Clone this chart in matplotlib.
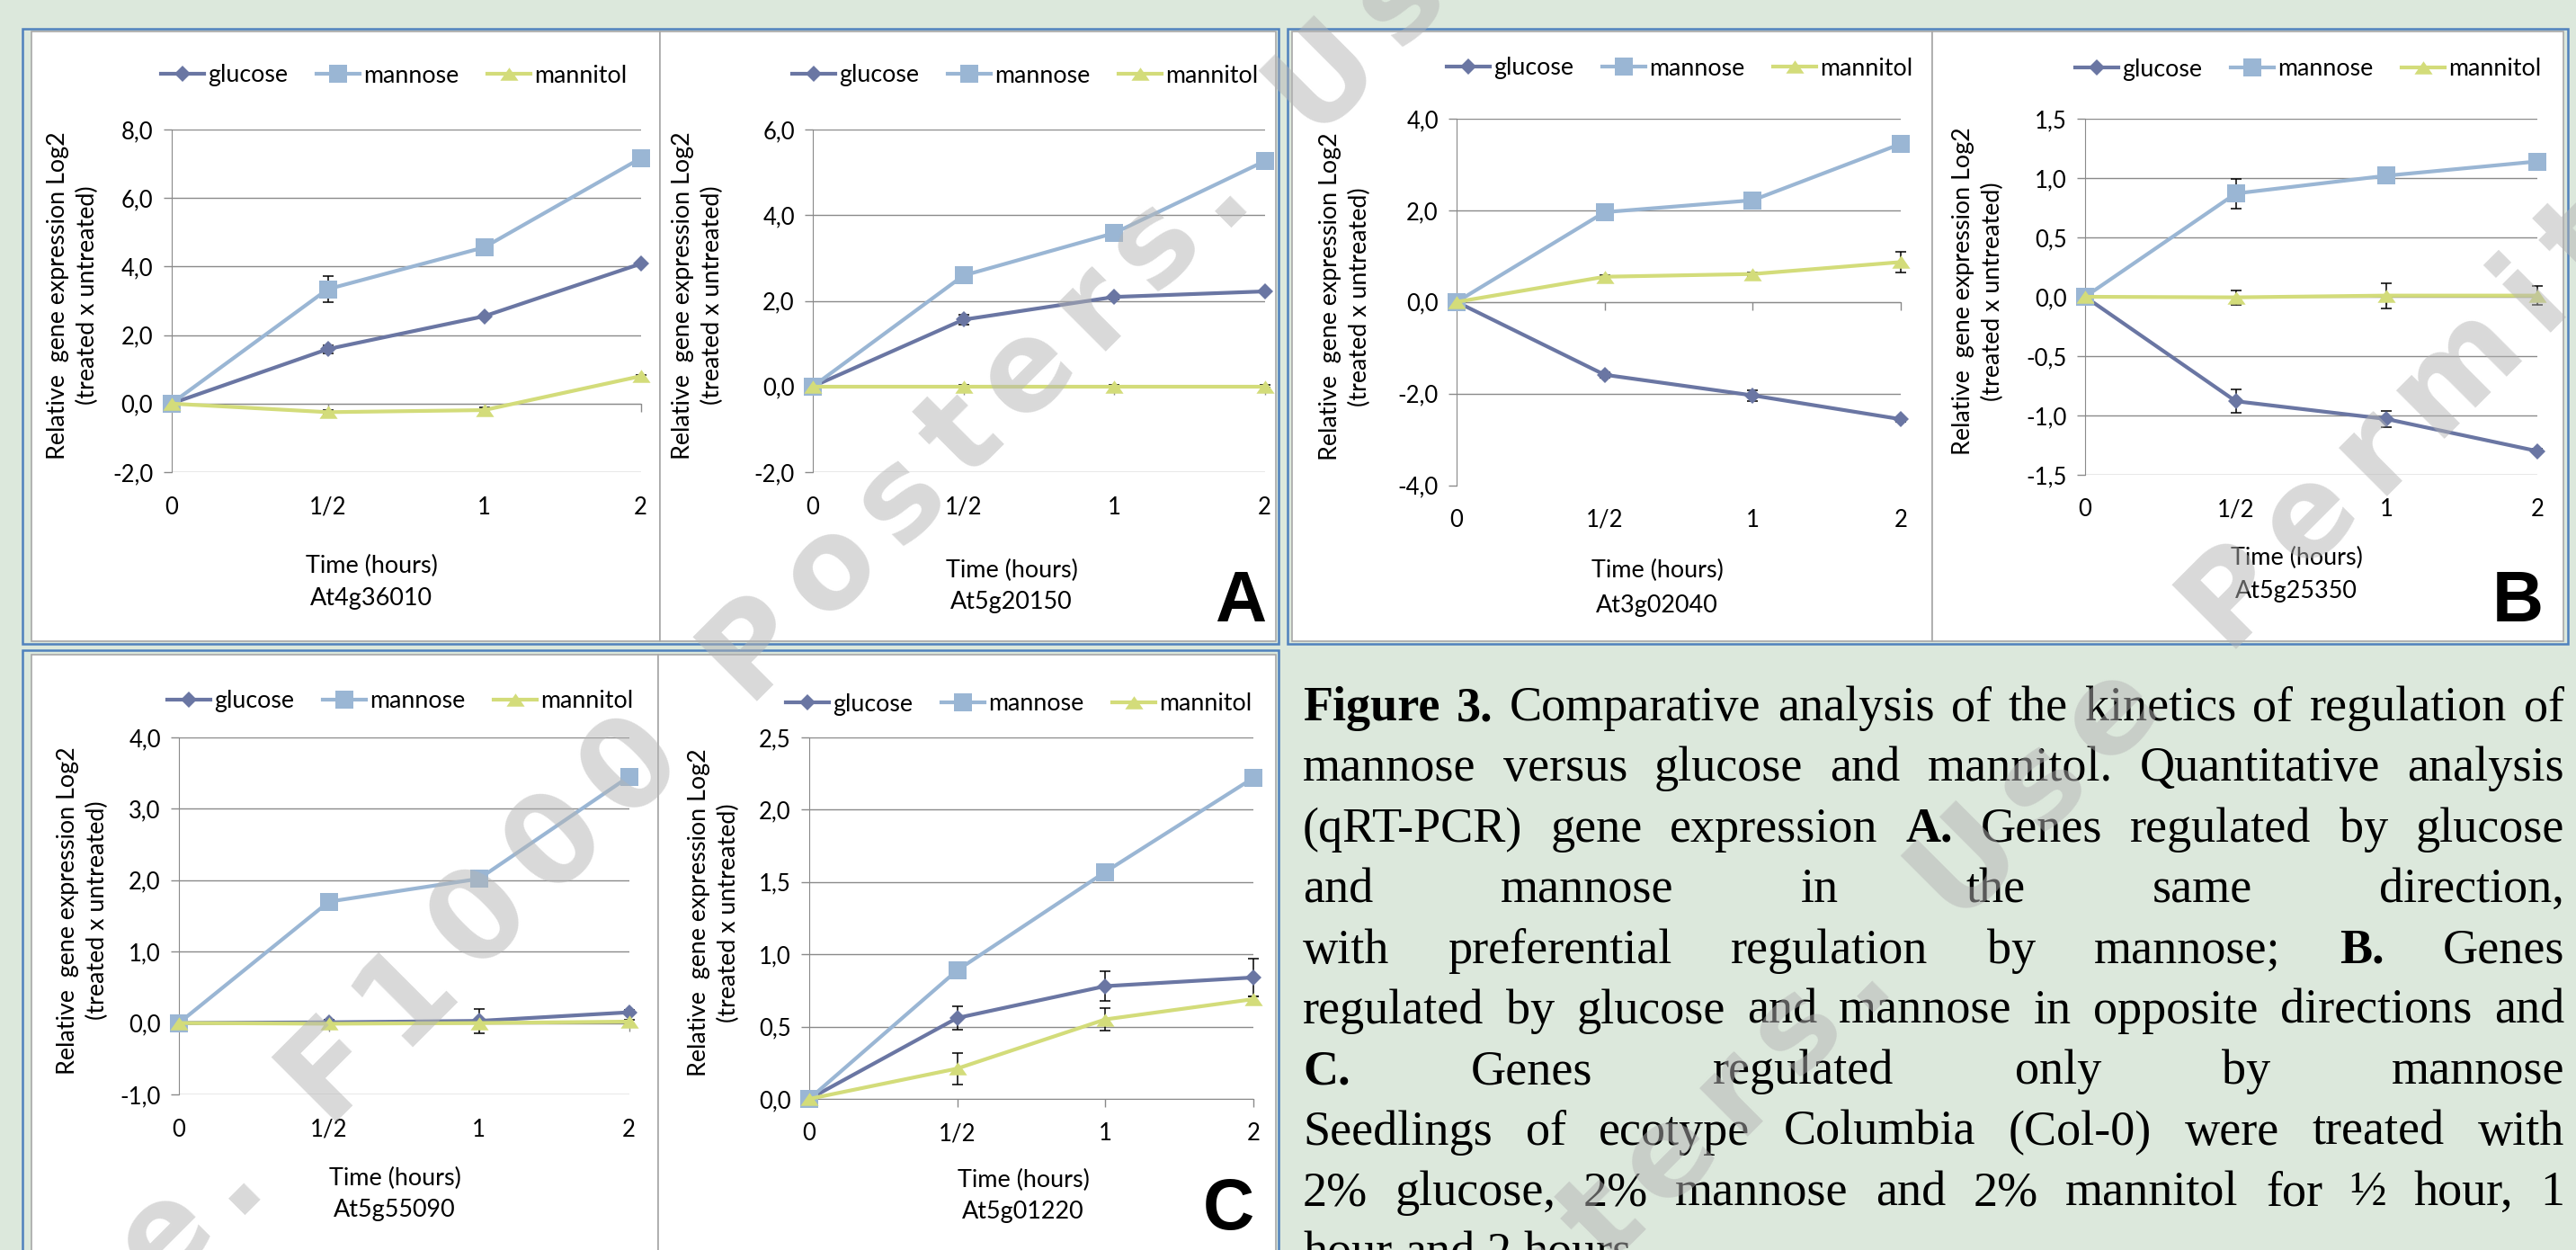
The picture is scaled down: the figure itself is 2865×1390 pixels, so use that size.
import matplotlib
matplotlib.use("Agg")
import matplotlib.pyplot as plt
from matplotlib.patches import Rectangle
from matplotlib.path import Path
import numpy as np

W, H = 2865, 1390
DPI = 100

# ---- data ----
times = ["0", "1/2", "1", "2"]
genes = ["At4g36010", "At5g20150", "At3g02040", "At5g25350", "At5g55090", "At5g01220"]
panel_letters = ["A", "B", "C"]

glucose = [
    [0, 1.59, 2.55, 4.08],
    [0, 1.56, 2.09, 2.22],
    [0, -1.59, -2.04, -2.56],
    [0, -0.88, -1.03, -1.30],
    [0, 0.01, 0.03, 0.15],
    [0, 0.56, 0.78, 0.84],
]
glucose_err = [
    [0, 0.12, 0.05, 0.05],
    [0, 0.12, 0.05, 0.04],
    [0, 0.06, 0.12, 0.05],
    [0, 0.10, 0.065, 0.02],
    [0, 0.03, 0.17, 0.03],
    [0, 0.08, 0.10, 0.13],
]
mannose = [
    [0, 3.34, 4.56, 7.16],
    [0, 2.59, 3.58, 5.26],
    [0, 1.96, 2.22, 3.45],
    [0, 0.87, 1.02, 1.14],
    [0, 1.70, 2.02, 3.45],
    [0, 0.89, 1.57, 2.22],
]
mannose_err = [
    [0, 0.37, 0.05, 0.05],
    [0, 0.05, 0.18, 0.05],
    [0, 0.05, 0.05, 0.05],
    [0, 0.125, 0.02, 0.02],
    [0, 0.03, 0.03, 0.03],
    [0, 0.02, 0.02, 0.02],
]
mannitol = [
    [0, -0.25, -0.19, 0.80],
    [0, 0.0, 0.0, 0.0],
    [0, 0.55, 0.61, 0.87],
    [0, -0.005, 0.01, 0.01],
    [0, -0.01, 0.0, 0.02],
    [0, 0.21, 0.55, 0.69],
]
mannitol_err = [
    [0, 0.06, 0.08, 0.04],
    [0, 0.03, 0.03, 0.03],
    [0, 0.04, 0.04, 0.22],
    [0, 0.06, 0.105, 0.08],
    [0, 0.05, 0.05, 0.03],
    [0, 0.11, 0.08, 0.02],
]
yranges = [(-2, 8, 2), (-2, 6, 2), (-4, 4, 2), (-1.5, 1.5, 0.5), (-1, 4, 1), (0, 2.5, 0.5)]

caption = [
    "Figure 3. Comparative analysis of the kinetics of regulation of",
    "mannose versus glucose and mannitol. Quantitative analysis",
    "(qRT-PCR) gene expression A. Genes regulated by glucose",
    "and mannose in the same direction,",
    "with preferential regulation by mannose; B. Genes",
    "regulated by glucose and mannose in opposite directions and",
    "C. Genes regulated only by mannose",
    "Seedlings of ecotype Columbia (Col-0) were treated with",
    "2% glucose, 2% mannose and 2% mannitol for \u00bd hour, 1",
    "hour and 2 hours",
]
bold_words = {"Figure", "3.", "A.", "B.", "C."}
watermark = "Use. F1000 Posters. Use Permitted"
ylabel = "Relative  gene expression Log2\n(treated x untreated)"

# ---- layout (pixels) ----
# axes box (left, top, right, bottom), legend centre, ylabel x, title x, time y, gene y
layout = [
    ((190.5, 144, 712.5, 525), (438, 84), 81, 413, 629, 666),
    ((904, 144, 1406.5, 525), (1140, 84), 776, 1125, 634, 670),
    ((1620, 132, 2114, 539.5), (1868, 76), 1496, 1843, 634, 673),
    ((2319, 132, 2822, 528), (2567, 77), 2200, 2554, 620, 657),
    ((199, 820, 699.5, 1217), (445, 780), 92, 439, 1310, 1346),
    ((900, 820, 1394, 1222), (1133, 783), 794, 1138, 1312, 1348),
]
blue_frames = [(25, 32, 1422, 716), (1432, 32, 2856, 716), (25, 723, 1422, 1410)]
chart_frames = [(35, 35, 734, 713), (734, 35, 1419, 713), (1437, 35, 2149, 713),
                (2149, 35, 2851, 713), (35, 728, 732, 1410), (732, 728, 1419, 1410)]
letter_pos = [(1408, 691), (2829, 691), (1395, 1367)]
# watermark anchors: (char index, baseline x, baseline y)
wm_anchors = [(watermark.index("F1000"), 361, 1248), (watermark.index("Permitted"), 2474, 722)]

C_GLU = "#6a76a3"
C_MAN = "#9ab6d4"
C_MNT = "#d3dc7a"
GRID = "#8a8a8a"
BG = "#dce8dc"
FS_CAP = 39
FS_WM, TRACK = 100, 22

tri = Path([(-1, -0.72), (1, -0.72), (0, 0.72), (-1, -0.72)],
           [Path.MOVETO, Path.LINETO, Path.LINETO, Path.CLOSEPOLY])
styles = [("glucose", C_GLU, "D", 9), ("mannose", C_MAN, "s", 14.5), ("mannitol", C_MNT, tri, 14.5)]


def fx(x):
    return x / W


def fy(y):
    return 1 - y / H


plt.rcParams["font.family"] = ["Lato", "DejaVu Sans"]
fig = plt.figure(figsize=(W / DPI, H / DPI), dpi=DPI, facecolor=BG)
renderer = fig.canvas.get_renderer()


def text_width(s, **kw):
    p = fig.text(0, 0, s, **kw)
    w = p.get_window_extent(renderer).width
    p.remove()
    return w


def fit_size(s, target):
    return 20 * target / text_width(s, fontsize=20)


# chart font sizes matched to the widths measured on the reference
FS_LEG = fit_size("glucose", 88.7)
FS_T = fit_size("Time (hours)", 147.8)
FS_TICK = fit_size("-2,0", 45)
FS_YL = fit_size("Relative  gene expression Log2", 365)
leg_em = FS_LEG * DPI / 72

for (l, t, r, b) in blue_frames:
    fig.add_artist(Rectangle((fx(l), fy(b)), (r - l) / W, (b - t) / H, transform=fig.transFigure,
                             facecolor=BG, edgecolor="#4f81bd", lw=1.8, zorder=-10))
for (l, t, r, b) in chart_frames:
    fig.add_artist(Rectangle((fx(l), fy(b)), (r - l) / W, (b - t) / H, transform=fig.transFigure,
                             facecolor="white", edgecolor="#a8a8a8", lw=1.2, zorder=-9))

series_all = [(glucose, glucose_err), (mannose, mannose_err), (mannitol, mannitol_err)]
x = np.arange(len(times))

for i, gene in enumerate(genes):
    (l, t, r, b), (lgx, lgy), ylx, ttx, tmy, gny = layout[i]
    ax = fig.add_axes([fx(l), fy(b), (r - l) / W, (b - t) / H])
    ax.patch.set_alpha(0)
    handles = []
    for (vals, errs), (name, col, mk, ms) in zip(series_all, styles):
        ax.errorbar(x, vals[i], yerr=errs[i], fmt="none", ecolor="black", elinewidth=1.1,
                    capsize=4.5, capthick=1.1, zorder=3, clip_on=False)
        h, = ax.plot(x, vals[i], color=col, lw=3.0, marker=mk, markersize=ms,
                     markeredgewidth=0, label=name, zorder=4, clip_on=False)
        handles.append(h)
    lo, hi, step = yranges[i]
    yt = np.arange(lo, hi + step / 2, step)
    ax.set_ylim(lo, hi)
    ax.set_yticks(yt)
    ax.set_yticklabels([f"{v:.1f}".replace(".", ",") for v in yt])
    ax.set_xlim(0, len(times) - 1)
    ax.set_xticks(x)
    ax.tick_params(axis="x", labelbottom=False, direction="out", length=6.5, width=1.0, color=GRID)
    ax.tick_params(axis="y", direction="out", length=6.5, width=1.0, color=GRID,
                   labelsize=FS_TICK, pad=8)
    ax.yaxis.grid(True, color=GRID, lw=1.0)
    ax.set_axisbelow(True)
    for s in ("top", "right"):
        ax.spines[s].set_visible(False)
    ax.spines["left"].set_color(GRID)
    ax.spines["bottom"].set_color(GRID)
    ax.spines["bottom"].set_position(("data", 0))
    for xi, lab in zip(x, times):
        ax.annotate(lab, xy=(xi, 0), xycoords=ax.get_xaxis_transform(), xytext=(0, -39 * 72 / DPI),
                    textcoords="offset points", ha="center", va="center", fontsize=FS_TICK)
    ax.legend(handles=handles, loc="center", bbox_to_anchor=(fx(lgx), fy(lgy)),
              bbox_transform=fig.transFigure, ncol=3, frameon=False, fontsize=FS_LEG,
              handlelength=48 / leg_em, handletextpad=4 / leg_em, columnspacing=32 / leg_em)
    fig.text(fx(ylx), fy((t + b) / 2 - 6), ylabel, rotation=90, ha="center", va="center",
             fontsize=FS_YL, linespacing=1.35, multialignment="center")
    fig.text(fx(ttx), fy(tmy), "Time (hours)", ha="center", va="center", fontsize=FS_T)
    fig.text(fx(ttx), fy(gny), gene, ha="center", va="center", fontsize=FS_T)

for letter, (px, py) in zip(panel_letters, letter_pos):
    fig.text(fx(px), fy(py), letter, ha="right", va="baseline", fontsize=57,
             fontweight="bold", family="Liberation Sans")

# ---- justified caption ----
cap_kw = dict(fontsize=FS_CAP, family="Liberation Serif")
space_w = text_width("a a", **cap_kw) - text_width("aa", **cap_kw)
cap_left, cap_right = 1449, 2852
for k, line in enumerate(caption):
    words = line.split(" ")
    base = 801 + 67.4 * k
    objs = [fig.text(0, fy(base), w, va="baseline", ha="left",
                     fontweight="bold" if w in bold_words else "normal", **cap_kw) for w in words]
    widths = [o.get_window_extent(renderer).width for o in objs]
    if k == len(caption) - 1:
        gap = space_w
    else:
        gap = (cap_right - cap_left - sum(widths)) / (len(words) - 1)
    xpos = cap_left
    for o, wd in zip(objs, widths):
        o.set_x(fx(xpos))
        xpos += wd + gap

# ---- watermark, one glyph at a time with wide tracking ----
wm_kw = dict(fontsize=FS_WM, family="DejaVu Sans", fontweight="bold")
ref = text_width("HH", **wm_kw)
adv = [text_width("H" + ch + "H", **wm_kw) - ref + TRACK for ch in watermark]
offs = np.concatenate([[0.0], np.cumsum(adv)[:-1]])
for idx, bx, by in wm_anchors:
    for ch, s in zip(watermark, offs - offs[idx]):
        if ch == " ":
            continue
        px = bx + s / np.sqrt(2)
        py = by - s / np.sqrt(2)
        fig.text(fx(px), fy(py), ch, color="#b4b4b4", alpha=0.5, rotation=45,
                 rotation_mode="anchor", ha="left", va="baseline", zorder=20, **wm_kw)

fig.savefig("out.png", dpi=DPI, facecolor=BG)
